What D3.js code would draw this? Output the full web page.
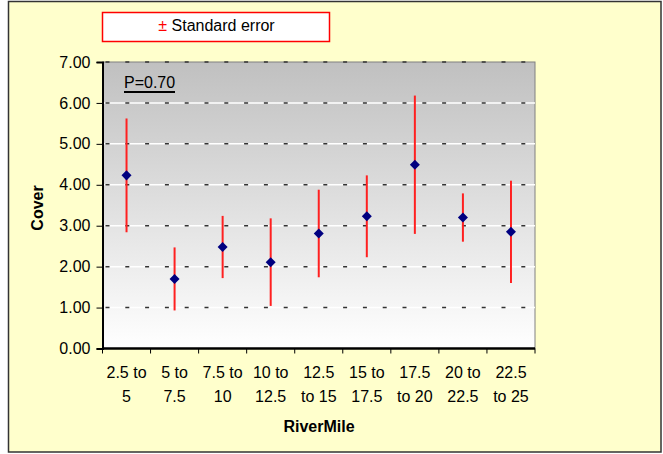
<!DOCTYPE html>
<html>
<head>
<meta charset="utf-8">
<script src="https://cdn.jsdelivr.net/npm/d3@7"></script>
<style>
body { margin: 0; background: #fff; }
text { font-family: "Liberation Sans", Arial, sans-serif; }
</style>
</head>
<body>
<script>
let categories = [['2.5 to', '5'], ['5 to', '7.5'], ['7.5 to', '10'], ['10 to', '12.5'], ['12.5', 'to 15'],
    ['15 to', '17.5'], ['17.5', 'to 20'], ['20 to', '22.5'], ['22.5', 'to 25']]
let cover = [4.23, 1.70, 2.48, 2.11, 2.81, 3.23, 4.49, 3.20, 2.85]
let std_err = [1.39, 0.77, 0.76, 1.07, 1.07, 1.00, 1.69, 0.59, 1.25]
let y_ticks = [0, 1, 2, 3, 4, 5, 6, 7]

let width = 663
let height = 454
let fontSize = 16
let plot = {left: 102.5, right: 535, top: 62, bottom: 348.5}

let svg = d3.select('body').append('svg')
    .attr('width', width)
    .attr('height', height)

svg.append('rect')
    .attr('x', 8.5).attr('y', 1.5)
    .attr('width', 652.5).attr('height', 450.5)
    .attr('fill', '#ffffcc')
    .attr('stroke', '#333')
    .attr('stroke-width', 1.5)

let grad = svg.append('defs').append('linearGradient')
    .attr('id', 'bg').attr('x1', 0).attr('y1', 0).attr('x2', 0).attr('y2', 1)
grad.append('stop').attr('offset', '0%').attr('stop-color', '#c0c0c0')
grad.append('stop').attr('offset', '100%').attr('stop-color', '#ffffff')

let x = d3.scaleBand()
    .domain(d3.range(categories.length))
    .range([plot.left, plot.right])
let y = d3.scaleLinear()
    .domain([0, 7])
    .range([plot.bottom, plot.top])

svg.append('rect')
    .attr('x', plot.left).attr('y', plot.top)
    .attr('width', plot.right - plot.left)
    .attr('height', plot.bottom - plot.top)
    .attr('fill', 'url(#bg)')
    .attr('stroke', '#808080')
    .attr('stroke-width', 1)

// gridlines: white line with dark dashes on top
let grid = svg.append('g')
grid.selectAll('line.w')
    .data(y_ticks.slice(1, -1))
    .enter().append('line')
    .attr('class', 'w')
    .attr('x1', plot.left).attr('x2', plot.right)
    .attr('y1', d => y(d)).attr('y2', d => y(d))
    .attr('stroke', '#ffffff').attr('stroke-width', 1.5)
grid.selectAll('line.d')
    .data(y_ticks.slice(1))
    .enter().append('line')
    .attr('class', 'd')
    .attr('x1', plot.left + 3).attr('x2', plot.right - 8)
    .attr('y1', d => y(d)).attr('y2', d => y(d))
    .attr('stroke', '#333').attr('stroke-width', 1.5)
    .attr('stroke-dasharray', '4,15.8')

// axes
let yAxis = svg.append('g')
    .attr('transform', `translate(${plot.left},0)`)
    .call(d3.axisLeft(y).tickValues(y_ticks).tickFormat(d3.format('.2f')).tickSize(6).tickPadding(6))
yAxis.select('.domain').attr('stroke', '#000').attr('stroke-width', 2)
yAxis.selectAll('text').attr('font-size', fontSize).attr('fill', '#000')
    .attr('font-family', '"Liberation Sans", Arial, sans-serif')

let bounds = d3.range(categories.length + 1).map(i => plot.left + i * x.step())
let xAxis = svg.append('g')
svg.append('line')
    .attr('x1', plot.left).attr('x2', plot.right)
    .attr('y1', plot.bottom).attr('y2', plot.bottom)
    .attr('stroke', '#000').attr('stroke-width', 2.5)
xAxis.selectAll('line')
    .data(bounds)
    .enter().append('line')
    .attr('x1', d => d).attr('x2', d => d)
    .attr('y1', plot.bottom).attr('y2', plot.bottom + 5)
    .attr('stroke', '#000').attr('stroke-width', 1)
let labels = xAxis.selectAll('text')
    .data(categories)
    .enter().append('text')
    .attr('x', (d, i) => x(i) + x.bandwidth() / 2)
    .attr('y', 378)
    .attr('text-anchor', 'middle')
    .attr('font-size', fontSize)
labels.selectAll('tspan')
    .data(d => d)
    .enter().append('tspan')
    .attr('x', function() { return this.parentNode.getAttribute('x') })
    .attr('dy', (d, i) => i ? 23.5 : 0)
    .text(d => d)

// error bars and points
let pts = svg.append('g')
pts.selectAll('line')
    .data(cover)
    .enter().append('line')
    .attr('x1', (d, i) => x(i) + x.bandwidth() / 2)
    .attr('x2', (d, i) => x(i) + x.bandwidth() / 2)
    .attr('y1', (d, i) => y(d + std_err[i]))
    .attr('y2', (d, i) => y(d - std_err[i]))
    .attr('stroke', '#ff2020').attr('stroke-width', 2)
pts.selectAll('path')
    .data(cover)
    .enter().append('path')
    .attr('d', d3.symbol(d3.symbolDiamond2, 64))
    .attr('transform', (d, i) => `translate(${x(i) + x.bandwidth() / 2},${y(d)})`)
    .attr('fill', '#000080')

// annotation
svg.append('text')
    .attr('x', 124).attr('y', 88)
    .attr('font-size', fontSize)
    .text('P=0.70')
svg.append('line')
    .attr('x1', 124).attr('x2', 175)
    .attr('y1', 92).attr('y2', 92)
    .attr('stroke', '#000').attr('stroke-width', 2)

// axis titles
svg.append('text')
    .attr('transform', 'translate(43,208) rotate(-90)')
    .attr('text-anchor', 'middle')
    .attr('font-size', fontSize).attr('font-weight', 'bold')
    .text('Cover')
svg.append('text')
    .attr('x', 319).attr('y', 432)
    .attr('text-anchor', 'middle')
    .attr('font-size', fontSize).attr('font-weight', 'bold')
    .text('RiverMile')

// legend
let legend = svg.append('g')
legend.append('rect')
    .attr('x', 102.5).attr('y', 12.5)
    .attr('width', 227).attr('height', 29)
    .attr('fill', '#fff')
    .attr('stroke', '#ff0000').attr('stroke-width', 1.5)
let lt = legend.append('text')
    .attr('x', 216.5).attr('y', 30.5)
    .attr('text-anchor', 'middle')
    .attr('font-size', fontSize)
lt.append('tspan').attr('fill', '#ff0000').text('±')
lt.append('tspan').text(' Standard error')
</script>
</body>
</html>
